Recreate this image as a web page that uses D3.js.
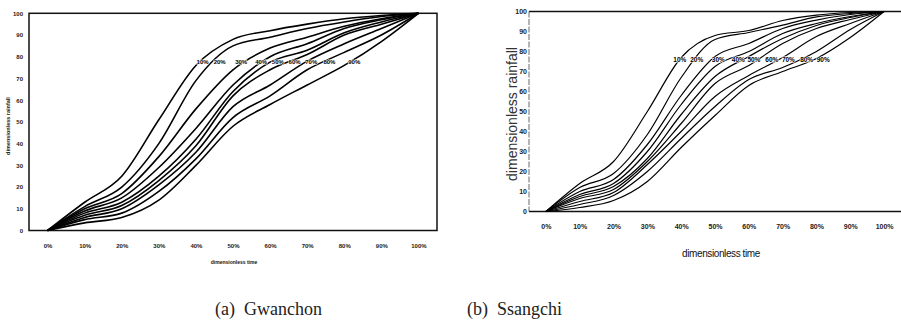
<!DOCTYPE html>
<html><head><meta charset="utf-8">
<script src="https://cdn.jsdelivr.net/npm/d3@7"></script>
<style>body{margin:0;background:#fff}svg{display:block}</style>
</head><body>
<svg id="c" width="901" height="330"></svg>
<script>
// ---- data ----
const timePts = [0,10,20,30,40,50,60,70,80,90,100];
const yTicks = [0,10,20,30,40,50,60,70,80,90,100];
const quartiles = ["10%","20%","30%","40%","50%","60%","70%","80%","90%"];

// (a) Gwanchon
const gw10 = [0,13,25,51,76,88,92,95,97.5,99,100];
const gw20 = [0,11,20,40,69,85,89,93,96,98.5,100];
const gw30 = [0,10,17,34,56,74,84,89,94,97.5,100];
const gw40 = [0,9,15,29,47,67,80,86,93,97,100];
const gw50 = [0,8,13,25,42,64,77.5,83,91,96,100];
const gw60 = [0,7,11.5,23,39,62,74,81,90,95,100];
const gw70 = [0,6,10,21,36,57,67,78,86,93,100];
const gw80 = [0,5,8,18,33,52,62,74,82,90,100];
const gw90 = [0,3.5,6,14,30,48,58,67,76,87,100];
const gwLabelT = [41.8,46.4,52.2,57.6,62.1,66.6,71.1,76,82.7];
const gwLabelV = 77.7;

// (b) Ssangchi
const ss10 = [0,14,25,50,77,88,90.5,95.5,98.2,99.5,100];
const ss20 = [0,12,19,38.5,67,86,89.5,93.2,97.3,99,100];
const ss30 = [0,10,16,33.5,58,77.5,84,91.5,95.7,98.5,100];
const ss40 = [0,8.5,14,30,53.5,72.5,80,89,94,97.5,100];
const ss50 = [0,7.5,12.5,26.5,48.5,67.5,77.5,86.5,93,97,100];
const ss60 = [0,6.5,11,25,44,64,73,84,91.5,96,100];
const ss70 = [0,5,9.5,23.5,40,57.5,68,77,87.5,94,100];
const ss80 = [0,3.5,8,20,36.5,52.5,66,72,80,91,100];
const ss90 = [0,2,5.5,15,32,48,63,70,76.5,87,100];
const ssLabelT = [39.6,44.6,51,56.9,61.5,66.8,71.7,77.1,82];
const ssLabelV = 75.7;

const xTitle = "dimensionless time";
const yTitle = "dimensionless rainfall";
const captions = ["(a)  Gwanchon", "(b)  Ssangchi"];

// ---- drawing ----
const svg = d3.select("#c");

const panels = [
  {series:[gw10,gw20,gw30,gw40,gw50,gw60,gw70,gw80,gw90], labT:gwLabelT, labV:gwLabelV,
   xr:[29,437], yr:[230.5,13.3], sw:1.6, tick:6, tickW:"bold", lab:6,
   yLabX:23, xLabY:246, box:"full"},
  {series:[ss10,ss20,ss30,ss40,ss50,ss60,ss70,ss80,ss90], labT:ssLabelT, labV:ssLabelV,
   xr:[529,901], yr:[211.5,11.5], sw:1.2, tick:7, tickW:"bold", lab:6.5,
   yLabX:527, xLabY:227, box:"open"}
];

panels.forEach((p,pi)=>{
  const x = d3.scaleLinear().domain([-5,105]).range(p.xr);
  const y = d3.scaleLinear().domain([0,100]).range(p.yr);
  const g = svg.append("g");

  // frame
  if(p.box==="full"){
    g.append("rect").attr("x",p.xr[0]).attr("y",y(100)).attr("width",p.xr[1]-p.xr[0])
     .attr("height",y(0)-y(100)).attr("fill","none").attr("stroke","#111").attr("stroke-width",1.5);
  } else {
    g.append("line").attr("x1",p.xr[0]).attr("x2",p.xr[1]).attr("y1",y(100)).attr("y2",y(100))
     .attr("stroke","#111").attr("stroke-width",1.5);
    g.append("line").attr("x1",p.xr[0]).attr("x2",p.xr[1]).attr("y1",y(0)).attr("y2",y(0))
     .attr("stroke","#111").attr("stroke-width",1.3);
    g.append("line").attr("x1",p.xr[0]).attr("x2",p.xr[0]).attr("y1",y(100)).attr("y2",y(0))
     .attr("stroke","#444").attr("stroke-width",0.8).attr("stroke-dasharray","6,1.5");
  }

  // curves
  const line = d3.line().x((d,i)=>x(timePts[i])).y(d=>y(d)).curve(d3.curveMonotoneX);
  g.selectAll("path.curve").data(p.series).join("path").attr("class","curve")
   .attr("d",line).attr("fill","none").attr("stroke","#000").attr("stroke-width",p.sw)
   .attr("stroke-linejoin","round");

  // curve labels
  g.selectAll("text.q").data(quartiles).join("text").attr("class","q")
   .attr("x",(d,i)=>x(p.labT[i])).attr("y",y(p.labV)).attr("dy","0.35em")
   .attr("text-anchor","middle").attr("font-family","Liberation Sans, Arial, sans-serif")
   .attr("font-weight","bold").attr("font-size",p.lab).attr("fill","#000")
   .attr("stroke","#fff").attr("stroke-width",1.2).attr("paint-order","stroke")
   .text(d=>d);

  // y axis labels
  const ya = g.append("g").attr("transform",`translate(${p.yLabX},0)`)
    .call(d3.axisLeft(y).tickValues(yTicks).tickSize(0).tickPadding(0));
  ya.select(".domain").remove();
  ya.selectAll("text").attr("font-family","Liberation Sans, Arial, sans-serif")
    .attr("font-size",p.tick).attr("font-weight",p.tickW).attr("fill","#222");

  // x axis labels
  const xa = g.append("g").attr("transform",`translate(0,${p.xLabY})`)
    .call(d3.axisBottom(x).tickValues(timePts).tickFormat(d=>d+"%").tickSize(0).tickPadding(0));
  xa.select(".domain").remove();
  xa.selectAll("text").attr("dy","0.35em").attr("font-family","Liberation Sans, Arial, sans-serif")
    .attr("font-size",p.tick).attr("font-weight",p.tickW).attr("fill","#222");

  // titles
  if(pi===0){
    g.append("text").attr("x",234).attr("y",262).attr("dy","0.35em").attr("text-anchor","middle")
     .attr("font-family","Liberation Sans, Arial, sans-serif").attr("font-weight","bold")
     .attr("font-size",5).attr("fill","#111").text(xTitle);
    g.append("text").attr("transform","translate(8,126) rotate(-90)").attr("dy","0.35em")
     .attr("text-anchor","middle").attr("font-family","Liberation Sans, Arial, sans-serif")
     .attr("font-weight","bold").attr("font-size",5.5).attr("fill","#111").text(yTitle);
  } else {
    g.append("text").attr("x",721).attr("y",253).attr("dy","0.35em").attr("text-anchor","middle")
     .attr("font-family","Liberation Sans, Arial, sans-serif")
     .attr("font-size",10).attr("letter-spacing","-0.4").attr("fill","#111").text(xTitle);
    g.append("text").attr("transform","translate(512,114) rotate(-90)").attr("dy","0.35em")
     .attr("text-anchor","middle").attr("font-family","Liberation Sans, Arial, sans-serif")
     .attr("font-size",14).attr("fill","#333").text(yTitle);
  }
});

// captions
svg.selectAll("text.cap").data(captions).join("text").attr("class","cap")
  .attr("x",(d,i)=>[215,467][i]).attr("y",315)
  .attr("font-family","Liberation Serif, DejaVu Serif, serif").attr("font-size",18)
  .attr("fill","#222").style("white-space","pre").text(d=>d);
</script></body></html>
